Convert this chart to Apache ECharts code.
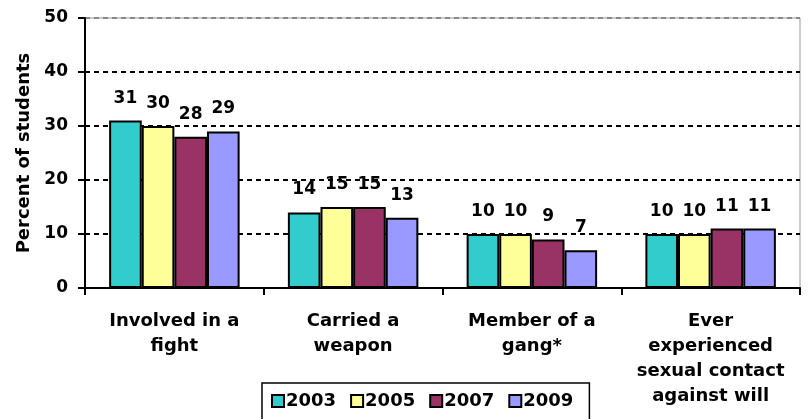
<!DOCTYPE html>
<html>
<head>
    <meta charset="utf-8">
    <title>chart</title>
    <style type="text/css">
        * {
            margin: 0;
            padding: 0;
        }

        body {
            background: #fff;
        }

        #chart {
            width: 809px;
            height: 419px;
        }
    </style>
</head>
<body>

<div id="chart"></div>

<script src="https://cdn.jsdelivr.net/npm/echarts@6/dist/echarts.min.js"></script>
<script type="text/javascript">

    // data
    let categories = ['Involved in a\nfight', 'Carried a\nweapon', 'Member of a\ngang*', 'Ever\nexperienced\nsexual contact\nagainst will'];
    let years = ['2003', '2005', '2007', '2009'];
    let v2003 = [31, 14, 10, 10];
    let v2005 = [30, 15, 10, 10];
    let v2007 = [28, 15, 9, 11];
    let v2009 = [29, 13, 7, 11];
    let yTicks = [0, 10, 20, 30, 40, 50];

    let values = [v2003, v2005, v2007, v2009];
    let colors = ['#33CCCC', '#FFFF99', '#993366', '#9999FF'];
    let font = '"DejaVu Sans", sans-serif';

    let myChart = echarts.init(document.getElementById('chart'));

    let series = years.map(function (y, i) {
        return {
            name: y,
            type: 'bar',
            data: values[i],
            barGap: '0%',
            barCategoryGap: '27%',
            animation: false,
            itemStyle: {
                color: colors[i],
                borderColor: '#000',
                borderWidth: 2
            },
            label: {
                show: true,
                position: 'top',
                distance: 14,
                color: '#000',
                fontFamily: font,
                fontWeight: 'bold',
                fontSize: 17
            }
        };
    });

    let option = {
        grid: {
            left: 85,
            right: 9,
            top: 18,
            bottom: 131,
            show: true,
            borderColor: '#999',
            borderWidth: 1
        },
        legend: {
            data: years,
            left: 262,
            top: 383,
            orient: 'horizontal',
            padding: [9, 16, 40, 9],
            borderColor: '#000',
            borderWidth: 1.5,
            itemWidth: 12,
            itemHeight: 12,
            itemGap: 14,
            icon: 'rect',
            textStyle: {
                color: '#000',
                fontFamily: font,
                fontWeight: 'bold',
                fontSize: 18,
                padding: [0, 0, 0, -3]
            }
        },
        xAxis: {
            type: 'category',
            data: categories,
            axisLine: {lineStyle: {color: '#000', width: 2}},
            axisTick: {show: true, length: 7, lineStyle: {color: '#000', width: 2}},
            axisLabel: {
                interval: 0,
                margin: 21,
                color: '#000',
                fontFamily: font,
                fontWeight: 'bold',
                fontSize: 18,
                lineHeight: 25
            }
        },
        yAxis: {
            type: 'value',
            min: yTicks[0],
            max: yTicks[yTicks.length - 1],
            interval: 10,
            name: 'Percent of students',
            nameLocation: 'middle',
            nameGap: 52,
            nameTextStyle: {
                color: '#000',
                fontFamily: font,
                fontWeight: 'bold',
                fontSize: 18
            },
            axisLine: {show: true, lineStyle: {color: '#000', width: 2}},
            axisTick: {show: true, length: 7, lineStyle: {color: '#000', width: 2}},
            axisLabel: {
                margin: 17,
                color: '#000',
                fontFamily: font,
                fontWeight: 'bold',
                fontSize: 17
            },
            splitLine: {
                show: true,
                lineStyle: {
                    color: ['#000', '#000', '#000', '#000', '#000', '#888'],
                    width: 2,
                    type: [5, 4]
                }
            }
        },
        series: series
    };

    myChart.setOption(option);
</script>
</body>
</html>
